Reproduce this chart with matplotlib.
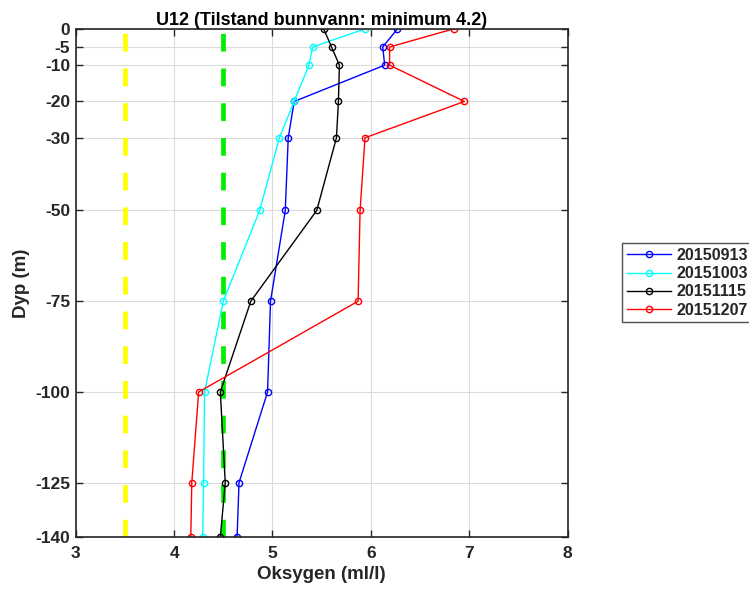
import matplotlib
matplotlib.use('Agg')
import matplotlib.pyplot as plt

# depths (m) and oxygen (ml/l) per survey date
depth = [0, -5, -10, -20, -30, -50, -75, -100, -125, -140]
o2_20150913 = [6.27, 6.12, 6.14, 5.22, 5.16, 5.13, 4.98, 4.95, 4.66, 4.64]
o2_20151003 = [5.94, 5.41, 5.37, 5.22, 5.07, 4.87, 4.50, 4.31, 4.30, 4.29]
o2_20151115 = [5.52, 5.60, 5.68, 5.67, 5.65, 5.45, 4.78, 4.47, 4.52, 4.47]
o2_20151207 = [6.84, 6.19, 6.19, 6.95, 5.94, 5.89, 5.87, 4.25, 4.18, 4.17]
labels = ['20150913', '20151003', '20151115', '20151207']
colors = ['#0000ff', '#00ffff', '#000000', '#ff0000']
limit_yellow = 3.5
limit_green = 4.5

plt.rcParams['font.family'] = ['Liberation Sans', 'DejaVu Sans']
plt.rcParams['font.weight'] = 'bold'
plt.rcParams['axes.unicode_minus'] = False
txt = '#262626'

fig = plt.figure(figsize=(7.49, 5.89), dpi=100)
ax = fig.add_axes([0.101, 0.088, 0.657, 0.863])

# limit lines drawn bottom-up so the dash pattern starts at -140
ax.plot([limit_yellow, limit_yellow], [depth[-1], depth[0]], color='#ffff00',
        lw=3.4, dashes=(3.75, 3.6))
ax.plot([limit_green, limit_green], [depth[-1], depth[0]], color='#00ee00',
        lw=3.4, dashes=(3.75, 3.6))

series = [o2_20150913, o2_20151003, o2_20151115, o2_20151207]
for vals, c, lab in zip(series, colors, labels):
    ax.plot(vals, depth, color=c, marker='o', mfc='none', ms=4.5, mew=1,
            lw=1.0, label=lab)

ax.set_xlim(3, 8)
ax.set_ylim(-140, 0)
ax.set_yticks(depth)
ax.set_xticks([3, 4, 5, 6, 7, 8])
ax.grid(True, color='#dcdcdc', lw=0.8)
ax.set_axisbelow(True)
ax.tick_params(direction='in', top=True, right=True, length=5,
               labelsize=12.5, colors=txt, width=1)
ax.tick_params(axis='x', pad=6)
ax.tick_params(axis='y', pad=4)
for lbl in ax.get_xticklabels() + ax.get_yticklabels():
    lbl.set_fontweight('bold')
for s in ax.spines.values():
    s.set_color(txt)
    s.set_linewidth(1.2)

ax.set_title('U12 (Tilstand bunnvann: minimum 4.2)', fontsize=13,
             fontweight='bold', color='black', pad=3)
ax.set_xlabel('Oksygen (ml/l)', fontsize=13.5, fontweight='bold', color=txt,
              labelpad=4)
ax.set_ylabel('Dyp (m)', fontsize=13.5, fontweight='bold', color=txt,
              labelpad=4)

handles = ax.get_lines()[2:]
leg = fig.legend(handles, labels, loc='center left',
                 bbox_to_anchor=(0.826, 0.52), fontsize=11.5, frameon=True,
                 fancybox=False, edgecolor=txt, handlelength=2.8,
                 borderpad=0.3, labelspacing=0.2, handletextpad=0.3,
                 borderaxespad=0.2)
leg.get_frame().set_linewidth(1)
for t in leg.get_texts():
    t.set_fontweight('bold')
    t.set_color(txt)

fig.savefig('out.png', dpi=100)
